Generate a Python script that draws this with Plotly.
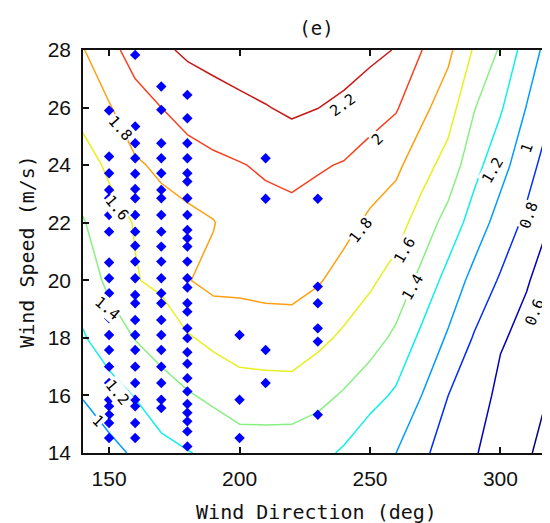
import plotly.graph_objects as go

# ---- contour grid ----
wind_dir_grid = [140, 150, 160, 170, 180, 190, 200, 210, 220, 230, 240, 250, 260, 270, 280, 290, 300, 310, 320]
wind_speed_grid = [14, 16, 18, 20, 22, 24, 26, 28]

z_14 = [0.84, 0.936, 1.03, 1.14, 1.19, 1.24, 1.30, 1.30, 1.29, 1.26, 1.172, 1.04, 1.00, 0.85, 0.68, 0.617, 0.50, 0.42, 0.33]
z_16 = [1.013, 1.118, 1.21, 1.311, 1.381, 1.442, 1.50, 1.505, 1.511, 1.457, 1.379, 1.277, 1.167, 0.996, 0.80, 0.70, 0.55, 0.483, 0.38]
z_18 = [1.183, 1.305, 1.408, 1.49, 1.58, 1.651, 1.705, 1.722, 1.726, 1.648, 1.567, 1.482, 1.36, 1.15, 0.974, 0.783, 0.62, 0.545, 0.447]
z_20 = [1.288, 1.443, 1.59, 1.638, 1.79, 1.856, 1.842, 1.852, 1.855, 1.819, 1.725, 1.632, 1.523, 1.342, 1.126, 0.936, 0.779, 0.614, 0.513]
z_22 = [1.385, 1.53, 1.61, 1.728, 1.739, 1.79, 1.919, 1.932, 1.94, 1.914, 1.8625, 1.761, 1.68, 1.509, 1.325, 1.108, 0.921, 0.757, 0.58]
z_24 = [1.521, 1.631, 1.776, 1.833, 1.913, 1.96, 1.99, 2.025, 2.055, 2.018, 1.9875, 1.917, 1.843, 1.676, 1.522, 1.266, 1.069, 0.88, 0.685]
z_26 = [1.662, 1.785, 1.92, 2.0, 2.077, 2.115, 2.152, 2.19, 2.236, 2.203, 2.15, 2.083, 2.017, 1.852, 1.688, 1.41, 1.223, 0.994, 0.805]
z_28 = [1.79, 1.94, 2.08, 2.167, 2.23, 2.27, 2.31, 2.35, 2.39, 2.37, 2.317, 2.25, 2.19, 2.0, 1.848, 1.575, 1.377, 1.109, 0.902]

contour_levels = [0.4, 0.6, 0.8, 1.0, 1.2, 1.4, 1.6, 1.8, 2.0, 2.2]
level_colors = ['#000080', '#0000b8', '#002bff', '#009cff', '#10f0e8',
                '#88f080', '#e8f020', '#ffa010', '#f84020', '#c81818']

# contour label texts and where they sit (inline labels, like clabel)
label_texts = ['2.2', '2', '1.8', '1.6', '1.4', '1.2', '1', '0.8', '0.6',
               '1.8', '1.6', '1.4', '1.2', '1']
label_dir = [239.6, 253.0, 246.5, 263.4, 266.4, 297.1, 310.1, 310.9, 313.2,
             154.2, 153.0, 149.2, 153.4, 145.7]
label_speed = [26.1, 24.9, 21.75, 21.05, 19.77, 23.83, 24.6, 22.27, 18.9,
               25.3, 22.5, 19.04, 16.1, 15.1]
label_angle = [-35, -45, -52, -60, -60, -60, -70, -70, -68,
               48, 50, 40, 50, 45]

speeds_150 = [25.9, 24.3, 23.72, 23.14, 22.85, 22.27, 21.69, 20.62, 20.07, 19.55, 19.2, 18.68, 18.1,
              17.58, 17.0, 16.43, 15.85, 15.62, 15.33, 15.04, 14.52]
speeds_160 = [27.83, 25.34, 24.76, 24.24, 23.7, 23.17, 22.85, 22.27, 21.69, 21.2, 20.65, 20.07, 19.49,
              19.2, 18.62, 18.1, 17.58, 17.0, 16.43, 15.85, 15.62, 15.04, 14.52]
speeds_170 = [26.73, 25.92, 24.76, 24.24, 23.72, 23.14, 22.85, 22.27, 21.69, 21.17, 20.65, 20.07, 19.55,
              19.2, 18.62, 18.1, 17.58, 17.0, 16.43, 15.85, 15.56]
speeds_180 = [26.44, 25.63, 24.76, 24.24, 23.72, 23.43, 22.85, 22.27, 21.75, 21.46, 21.17, 20.65, 20.07,
              19.75, 19.2, 18.91, 18.33, 17.99, 17.5, 17.1, 16.6, 16.14, 15.7, 15.4, 15.1, 14.75, 14.23]
speeds_200 = [18.1, 15.85, 14.52]
speeds_210 = [24.24, 22.83, 17.58, 16.43]
speeds_230 = [22.83, 19.78, 19.2, 18.33, 17.87, 15.33]

point_columns = [(150, speeds_150), (160, speeds_160), (170, speeds_170), (180, speeds_180),
                 (200, speeds_200), (210, speeds_210), (230, speeds_230)]

z_grid = [z_14, z_16, z_18, z_20, z_22, z_24, z_26, z_28]

fig = go.Figure()

for lev, col in zip(contour_levels, level_colors):
    fig.add_trace(go.Contour(
        x=wind_dir_grid, y=wind_speed_grid, z=z_grid,
        autocontour=False,
        contours=dict(start=lev, end=lev, size=0.2, coloring='none', showlabels=False),
        line=dict(color=col, width=1.5, smoothing=0),
        showscale=False, hoverinfo='skip', showlegend=False))

pts_x = []
pts_y = []
for d, speeds in point_columns:
    pts_x += [d] * len(speeds)
    pts_y += speeds

fig.add_trace(go.Scatter(x=pts_x, y=pts_y, mode='markers',
                         marker=dict(symbol='diamond', size=8, color='#0000ff', line=dict(width=0)),
                         showlegend=False, hoverinfo='skip'))

for t, lx, ly, ang in zip(label_texts, label_dir, label_speed, label_angle):
    fig.add_annotation(x=lx, y=ly, xref='x', yref='y', text=t, showarrow=False,
                       textangle=ang, bgcolor='white', borderpad=0,
                       font=dict(family='DejaVu Sans Mono', size=15, color='black'))

axis_common = dict(ticks='inside', ticklen=6, tickwidth=1.5, tickcolor='#111',
                   showline=True, linecolor='#111', linewidth=1.5, mirror='ticks',
                   showgrid=False, zeroline=False, automargin=False,
                   tickfont=dict(family='Liberation Sans', size=21, color='#111'))

# the page body adds an 8 px offset, so margins are compensated
fig.update_layout(
    width=550, height=523,
    margin=dict(l=75, r=8, t=42, b=78),
    paper_bgcolor='white', plot_bgcolor='white',
    title=dict(text='(e)', x=0.5, xref='paper', xanchor='center',
               y=1 - 20 / 523, yref='container', yanchor='middle',
               font=dict(family='DejaVu Sans Mono', size=19, color='#111')),
    xaxis=dict(range=[140, 319], tickvals=[150, 200, 250, 300], ticklabelstandoff=6,
               title=dict(text='Wind Direction (deg)', standoff=16,
                          font=dict(family='DejaVu Sans Mono', size=20, color='#111')),
               **axis_common),
    yaxis=dict(range=[14, 28], tickvals=[14, 16, 18, 20, 22, 24, 26, 28], ticklabelstandoff=6,
               title=dict(text='Wind Speed (m/s)', standoff=8,
                          font=dict(family='DejaVu Sans Mono', size=20, color='#111')),
               **axis_common),
)

fig.write_html('out.html')
